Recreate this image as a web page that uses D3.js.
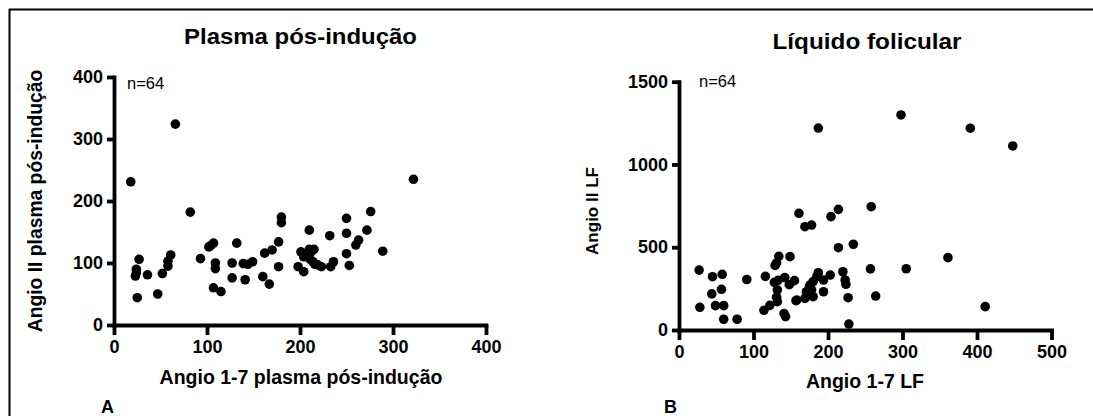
<!DOCTYPE html>
<html>
<head>
<meta charset="utf-8">
<script src="https://cdn.jsdelivr.net/npm/d3@7"></script>
<style>
  html, body { margin: 0; padding: 0; background: #fff; }
  svg { display: block; font-family: "Liberation Sans", Arial, sans-serif; }
</style>
</head>
<body>
<svg id="chart" width="1093" height="416"></svg>
<script>
// Panel A: plasma after induction (Angio 1-7 vs Angio II)
const plasmaAng17 = [18, 66, 82, 27, 24, 23, 25, 36, 52, 47, 58, 61, 58, 93, 102, 107, 109, 109, 107, 115,
  127, 127, 132, 141, 139, 144, 149, 160, 162, 167, 170, 177, 177, 180, 180, 198, 201, 204, 204, 210,
  210, 215, 214, 216, 223, 233, 236, 232, 250, 250, 250, 253, 260, 263, 272, 276, 289, 322,
  208, 211, 219, 212, 24, 104];
const plasmaAngII = [231, 324, 182, 106, 90, 79, 44, 81, 83, 50, 103, 113, 95, 107, 126, 132, 100, 91, 60, 54,
  100, 76, 132, 73, 99, 98, 102, 78, 116, 66, 121, 134, 94, 165, 174, 94, 118, 110, 86, 153,
  122, 122, 102, 98, 94, 94, 102, 144, 148, 172, 115, 96, 129, 137, 153, 183, 119, 235,
  113, 106, 97, 118, 84, 128];

// Panel B: follicular fluid (Angio 1-7 LF vs Angio II LF)
const lfAng17 = [27, 28, 45, 44, 58, 57, 49, 60, 60, 78, 91, 116, 114, 122, 128, 129, 134, 131, 132, 131,
  132, 141, 143, 142, 149, 155, 148, 157, 161, 169, 178, 187, 214, 204, 214, 234, 220, 223, 224, 227,
  228, 298, 391, 448, 258, 361, 257, 305, 411, 264,
  187, 203, 194, 185, 180, 176, 171, 169, 180, 178, 194, 158, 133, 175];
const lfAngII = [362, 137, 322, 218, 336, 246, 147, 147, 65, 65, 305, 324, 119, 149, 288, 390, 445, 405, 242, 198,
  171, 99, 81, 317, 443, 298, 274, 177, 705, 624, 634, 1220, 729, 685, 497, 518, 352, 302, 276, 195,
  36, 1299, 1219, 1112, 745, 437, 369, 370, 141, 205,
  346, 332, 302, 322, 292, 272, 231, 191, 201, 242, 231, 181, 300, 260];

const plasmaXTicks = [0, 100, 200, 300, 400];
const plasmaYTicks = [0, 100, 200, 300, 400];
const lfXTicks = [0, 100, 200, 300, 400, 500];
const lfYTicks = [0, 500, 1000, 1500];

const svg = d3.select("#chart");

// outer frame: top rule and left rule
svg.append("line").attr("x1", 9).attr("x2", 1093).attr("y1", 9.5).attr("y2", 9.5)
  .attr("stroke", "#000").attr("stroke-width", 2);
svg.append("line").attr("x1", 9.5).attr("x2", 9.5).attr("y1", 9).attr("y2", 416)
  .attr("stroke", "#000").attr("stroke-width", 2);

function panel(cfg) {
  const x = d3.scaleLinear().domain(cfg.xDomain).range(cfg.xRange);
  const y = d3.scaleLinear().domain(cfg.yDomain).range(cfg.yRange);
  const g = svg.append("g");

  const xAxis = g.append("g")
    .attr("transform", `translate(0,${cfg.yRange[0]})`)
    .call(d3.axisBottom(x).tickValues(cfg.xTicks).tickSize(10).tickSizeOuter(0).tickPadding(5)
      .tickFormat(d3.format("d")));
  const yAxis = g.append("g")
    .attr("transform", `translate(${cfg.xRange[0]},0)`)
    .call(d3.axisLeft(y).tickValues(cfg.yTicks).tickSize(7).tickSizeOuter(0).tickPadding(4)
      .tickFormat(d3.format("d")));

  [xAxis, yAxis].forEach(a => {
    a.select(".domain").attr("stroke", "#000").attr("stroke-width", 3.8).attr("stroke-linecap", "square");
    a.selectAll(".tick line").attr("stroke", "#000").attr("stroke-width", 3.8);
    a.selectAll(".tick text").attr("fill", "#000").attr("font-size", 18).attr("font-weight", "bold")
      .attr("font-family", "'Liberation Sans', Arial, sans-serif");
  });

  g.append("g").selectAll("circle")
    .data(cfg.xs.map((v, i) => [v, cfg.ys[i]]))
    .join("circle")
    .attr("cx", d => x(d[0]))
    .attr("cy", d => y(d[1]))
    .attr("r", 4.8)
    .attr("fill", "#000");

  // title
  g.append("text")
    .attr("x", cfg.title.x).attr("y", cfg.title.y)
    .attr("text-anchor", "middle").attr("font-size", 22).attr("font-weight", "bold")
    .attr("textLength", cfg.title.len).attr("lengthAdjust", "spacingAndGlyphs")
    .text(cfg.title.text);

  // axis titles
  g.append("text")
    .attr("x", cfg.xTitle.x).attr("y", cfg.xTitle.y)
    .attr("text-anchor", "middle").attr("font-size", cfg.xTitle.size).attr("font-weight", "bold")
    .text(cfg.xTitle.text);
  g.append("text")
    .attr("transform", `translate(${cfg.yTitle.x},${cfg.yTitle.y}) rotate(-90)`)
    .attr("text-anchor", "middle").attr("font-size", cfg.yTitle.size).attr("font-weight", "bold")
    .text(cfg.yTitle.text);

  // sample size
  g.append("text")
    .attr("x", cfg.n.x).attr("y", cfg.n.y)
    .attr("font-size", 16.5)
    .text(cfg.n.text);

  // panel letter
  g.append("text")
    .attr("x", cfg.letter.x).attr("y", 413)
    .attr("font-size", 18).attr("font-weight", "bold")
    .text(cfg.letter.text);
}

panel({
  xDomain: [0, 400], xRange: [114, 486],
  yDomain: [0, 400], yRange: [325, 77],
  xTicks: plasmaXTicks, yTicks: plasmaYTicks,
  xs: plasmaAng17, ys: plasmaAngII,
  title: { text: "Plasma pós-indução", x: 300.5, y: 43.5, len: 233 },
  xTitle: { text: "Angio 1-7 plasma pós-indução", x: 301, y: 384, size: 19.5 },
  yTitle: { text: "Angio II plasma pós-indução", x: 42, y: 201, size: 19.3 },
  n: { text: "n=64", x: 127, y: 89 },
  letter: { text: "A", x: 101 }
});

panel({
  xDomain: [0, 500], xRange: [679, 1051.5],
  yDomain: [0, 1500], yRange: [330, 81.7],
  xTicks: lfXTicks, yTicks: lfYTicks,
  xs: lfAng17, ys: lfAngII,
  title: { text: "Líquido folicular", x: 867, y: 49, len: 189 },
  xTitle: { text: "Angio 1-7 LF", x: 865, y: 388, size: 19.5 },
  yTitle: { text: "Angio II LF", x: 597.5, y: 211, size: 17 },
  n: { text: "n=64", x: 699, y: 86.5 },
  letter: { text: "B", x: 664 }
});
</script>
</body>
</html>
